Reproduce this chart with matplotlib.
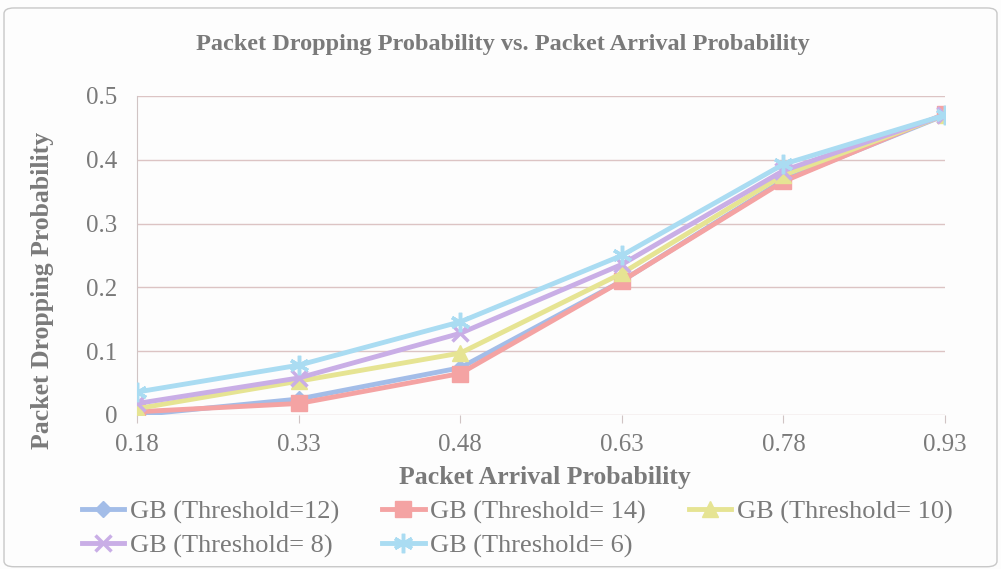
import matplotlib
matplotlib.use("Agg")
import matplotlib.pyplot as plt
from matplotlib.patches import FancyBboxPatch

categories = ["0.18", "0.33", "0.48", "0.63", "0.78", "0.93"]
th12 = [0.000, 0.025, 0.074, 0.210, 0.368, 0.470]
th14 = [0.005, 0.018, 0.065, 0.210, 0.366, 0.472]
th10 = [0.010, 0.053, 0.097, 0.222, 0.376, 0.470]
th8 = [0.018, 0.058, 0.128, 0.236, 0.383, 0.470]
th6 = [0.036, 0.078, 0.146, 0.250, 0.393, 0.470]
yticks = [0, 0.1, 0.2, 0.3, 0.4, 0.5]
ytick_labels = ["0", "0.1", "0.2", "0.3", "0.4", "0.5"]

series = [
    ("GB (Threshold=12)", th12, "#a3bde8", "D", 8),
    ("GB (Threshold= 14)", th14, "#f4a3a3", "s", 12),
    ("GB (Threshold= 10)", th10, "#e6e493", "^", 12),
    ("GB (Threshold= 8)", th8, "#c9aee6", "x", 11),
    ("GB (Threshold= 6)", th6, "#aadcf2", (6, 2, 0), 14),
]

plt.rcParams['font.family'] = ['Liberation Serif', 'DejaVu Serif']
txt = "#7a7a7a"

fig = plt.figure(figsize=(10.01, 5.69), dpi=100)
fig.patch.set_facecolor("#fdfdfd")
fig.patches.append(FancyBboxPatch((0.004, 0.004), 0.992, 0.982,
                                  boxstyle="round,pad=0,rounding_size=0.01",
                                  transform=fig.transFigure, fill=False,
                                  edgecolor="#c8c8c8", linewidth=1.0))

ax = fig.add_axes([0.137, 0.2707, 0.807, 0.5606])
ax.set_facecolor("#fdfdfd")
x = list(range(len(categories)))
for label, vals, col, mk, ms in series:
    ax.plot(x, vals, color=col, linewidth=3.5, marker=mk, markersize=ms,
            markeredgewidth=2.5 if mk in ("x",) or isinstance(mk, tuple) else 1,
            markeredgecolor=col, markerfacecolor=col, label=label, zorder=3)

ax.set_xlim(0, len(categories) - 1)
ax.set_ylim(0, 0.5)
ax.set_yticks(yticks)
ax.set_yticklabels(ytick_labels)
ax.set_xticks(x)
ax.set_xticklabels(categories)
ax.grid(axis="y", color="#dcc4c4", linewidth=1.0)
ax.set_axisbelow(True)
for s in ["top", "right", "bottom"]:
    ax.spines[s].set_visible(False)
ax.spines["left"].set_color("#d0c4c4")
ax.tick_params(axis="y", length=0, labelsize=18, labelcolor=txt, pad=14)
ax.tick_params(axis="x", length=6, color="#d0c4c4", labelsize=18, labelcolor=txt, pad=8)

fig.text(0.502, 0.922, "Packet Dropping Probability vs. Packet Arrival Probability",
         ha="center", va="center", fontsize=17.5, fontweight="bold", color=txt)
fig.text(0.042, 0.49, "Packet Dropping Probability", rotation=90,
         ha="center", va="center", fontsize=18.5, fontweight="bold", color=txt)
fig.text(0.544, 0.16, "Packet Arrival Probability", ha="center", va="center",
         fontsize=18.5, fontweight="bold", color=txt)

handles, labels = ax.get_legend_handles_labels()
order = [0, 3, 1, 4, 2]
leg = fig.legend([handles[i] for i in order], [labels[i] for i in order],
                 loc="upper left", bbox_to_anchor=(0.082, 0.121),
                 ncol=3, frameon=False, fontsize=19, labelcolor=txt,
                 handlelength=1.6, handletextpad=0.2, columnspacing=1.65,
                 labelspacing=0.37, borderaxespad=0, borderpad=0)

fig.savefig("out.png", dpi=100, facecolor=fig.get_facecolor())
